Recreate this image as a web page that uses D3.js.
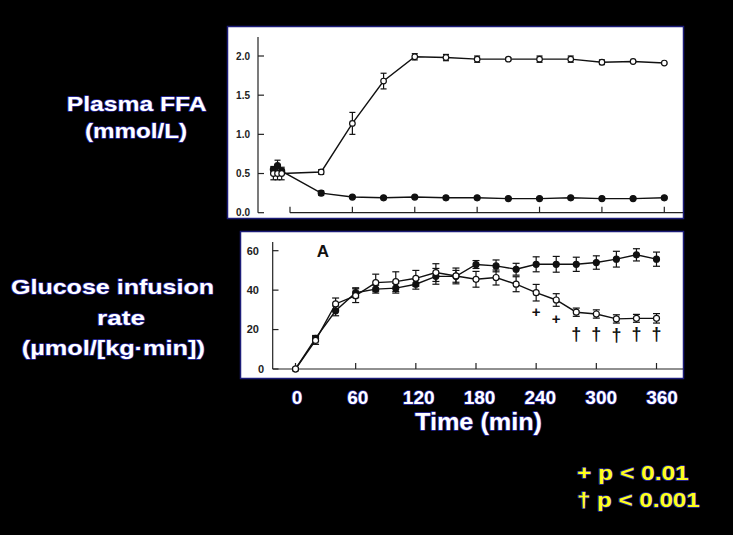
<!DOCTYPE html>
<html>
<head>
<meta charset="utf-8">
<script src="https://cdn.jsdelivr.net/npm/d3@7"></script>
<style>
  html, body { margin: 0; padding: 0; background: #000; }
  svg { display: block; }
  text { font-family: "Liberation Sans", Arial, sans-serif; font-weight: bold; }
</style>
</head>
<body>
<svg id="chart" width="733" height="535"></svg>
<script>
// ---------- DATA ----------
// Top panel: Plasma FFA (mmol/L)
const ffaTimes      = [-16, -12, -8, 30, 60, 90, 120, 150, 180, 210, 240, 270, 300, 330, 360];
const ffaLipid      = [0.50, 0.50, 0.50, 0.52, 1.14, 1.68, 1.99, 1.98, 1.96, 1.96, 1.96, 1.96, 1.92, 1.93, 1.91];
const ffaLipidErr   = [0.08, 0.08, 0.08, 0.03, 0.14, 0.10, 0.04, 0.04, 0.04, 0.02, 0.04, 0.04, 0.03, 0.01, 0.01];
const ffaSaline     = [0.55, 0.60, 0.53, 0.25, 0.20, 0.19, 0.20, 0.19, 0.19, 0.18, 0.18, 0.19, 0.18, 0.18, 0.19];
const ffaSalineErr  = [0.04, 0.07, 0.03, 0.03, 0.01, 0.01, 0.01, 0.01, 0.01, 0.01, 0.01, 0.01, 0.01, 0.01, 0.01];
const ffaYTicks     = [0, 0.5, 1.0, 1.5, 2.0];
const timeTicks     = [0, 60, 120, 180, 240, 300, 360];

// Bottom panel: Glucose infusion rate (µmol/[kg·min])
const girTimes      = [0, 20, 40, 60, 80, 100, 120, 140, 160, 180, 200, 220, 240, 260, 280, 300, 320, 340, 360];
const girSaline     = [0, 15.5, 29.5, 38.7, 40.5, 41.0, 43.0, 47.0, 47.0, 53.0, 52.3, 50.6, 53.1, 53.1, 53.1, 54.0, 55.7, 57.9, 55.7];
const girSalineErr  = [0, 1.5, 2.5, 2.5, 2.0, 2.5, 2.5, 4.0, 3.0, 2.0, 3.0, 3.0, 3.8, 4.0, 3.6, 3.4, 4.0, 3.1, 3.6];
const girLipid      = [0, 14.5, 33.0, 37.2, 43.8, 44.3, 46.0, 48.9, 47.2, 45.5, 46.4, 43.0, 38.7, 35.0, 28.8, 27.9, 25.4, 25.7, 25.7];
const girLipidErr   = [0, 2.0, 3.0, 3.5, 4.3, 5.0, 4.0, 4.5, 4.0, 4.0, 3.8, 3.8, 4.2, 3.2, 2.1, 2.1, 2.1, 2.0, 2.4];
const girYTicks     = [0, 20, 40, 60];
const plusTimes     = [240, 260];
const plusLevels    = [29.1, 25.7];
const daggerTimes   = [280, 300, 320, 340, 360];
const daggerLevels  = [18.3, 18.3, 18.0, 18.3, 18.3];

const topLabel      = ["Plasma FFA", "(mmol/L)"];
const bottomLabel   = ["Glucose infusion", "rate", "(µmol/[kg·min])"];
const xTitle        = "Time (min)";
const panelTag      = "A";
const legendLines   = ["+ p < 0.01", "† p < 0.001"];

// ---------- DRAW ----------
const svg = d3.select("#chart");
svg.append("rect").attr("width", 733).attr("height", 535).attr("fill", "#000");

const boxStroke = "#1c1c78";
svg.append("rect").attr("x", 227.5).attr("y", 26.5).attr("width", 456).attr("height", 192)
  .attr("fill", "#fff").attr("stroke", boxStroke).attr("stroke-width", 1.5);
svg.append("rect").attr("x", 240.5).attr("y", 231.5).attr("width", 443).attr("height", 147)
  .attr("fill", "#fff").attr("stroke", boxStroke).attr("stroke-width", 1.5);

// ---- Top panel
const xTop = d3.scaleLinear().domain([0, 360]).range([290, 664.3]);
const yTop = d3.scaleLinear().domain([0, 2]).range([212.7, 56]);

const gTop = svg.append("g");
gTop.append("line").attr("x1", 258).attr("x2", 258).attr("y1", 37).attr("y2", yTop(0))
  .attr("stroke", "#222").attr("stroke-width", 1.2);
gTop.selectAll(".yt").data(ffaYTicks).join("line")
  .attr("x1", 258).attr("x2", 264).attr("y1", d => yTop(d)).attr("y2", d => yTop(d))
  .attr("stroke", "#222").attr("stroke-width", 1.2);
gTop.selectAll(".ytl").data(ffaYTicks).join("text")
  .attr("x", 250).attr("y", d => yTop(d)).attr("dy", "0.35em")
  .attr("text-anchor", "end").attr("font-size", 10).attr("fill", "#222")
  .text(d => d3.format(".1f")(d));
gTop.append("line").attr("x1", xTop(0)).attr("x2", 683).attr("y1", yTop(0)).attr("y2", yTop(0))
  .attr("stroke", "#222").attr("stroke-width", 1.2);
gTop.selectAll(".xt").data(timeTicks).join("line")
  .attr("x1", d => xTop(d)).attr("x2", d => xTop(d)).attr("y1", yTop(0)).attr("y2", yTop(0) - 6)
  .attr("stroke", "#222").attr("stroke-width", 1.2);

function drawSeries(g, xs, ys, errs, xSc, ySc, filled, r, capW) {
  const pts = xs.map((t, i) => ({ t, v: ys[i], e: errs[i] }));
  g.append("path").datum(pts)
    .attr("d", d3.line().x(d => xSc(d.t)).y(d => ySc(d.v)))
    .attr("fill", "none").attr("stroke", "#111").attr("stroke-width", 1.4);
  const eb = g.append("g");
  pts.filter(d => d.e > 0).forEach(d => {
    const x = xSc(d.t), y1 = ySc(d.v + d.e), y2 = ySc(d.v - d.e);
    eb.append("line").attr("x1", x).attr("x2", x).attr("y1", y1).attr("y2", y2)
      .attr("stroke", "#111").attr("stroke-width", 1.2);
    [y1, y2].forEach(y => eb.append("line").attr("x1", x - capW).attr("x2", x + capW)
      .attr("y1", y).attr("y2", y).attr("stroke", "#111").attr("stroke-width", 1.2));
  });
  g.selectAll(null).data(pts).join("circle")
    .attr("cx", d => xSc(d.t)).attr("cy", d => ySc(d.v)).attr("r", r)
    .attr("fill", filled ? "#111" : "#fff").attr("stroke", "#111").attr("stroke-width", 1.2);
}

drawSeries(gTop, ffaTimes, ffaSaline, ffaSalineErr, xTop, yTop, true, 3, 3);
drawSeries(gTop, ffaTimes, ffaLipid, ffaLipidErr, xTop, yTop, false, 2.8, 3);

// ---- Bottom panel
const xBot = d3.scaleLinear().domain([0, 360]).range([295.5, 656.5]);
const yBot = d3.scaleLinear().domain([0, 60]).range([369, 250.7]);

const gBot = svg.append("g");
gBot.append("line").attr("x1", 272.7).attr("x2", 272.7).attr("y1", 242).attr("y2", yBot(0))
  .attr("stroke", "#222").attr("stroke-width", 1.2);
gBot.selectAll(".yt").data(girYTicks).join("line")
  .attr("x1", 272.7).attr("x2", 278.5).attr("y1", d => yBot(d)).attr("y2", d => yBot(d))
  .attr("stroke", "#222").attr("stroke-width", 1.2);
gBot.selectAll(".ytl").data(girYTicks).join("text")
  .attr("x", d => d === 0 ? 264 : 259).attr("y", d => yBot(d)).attr("dy", "0.35em")
  .attr("text-anchor", "end").attr("font-size", 11).attr("fill", "#222")
  .text(d => d);
gBot.append("line").attr("x1", 272.7).attr("x2", 683).attr("y1", yBot(0)).attr("y2", yBot(0))
  .attr("stroke", "#222").attr("stroke-width", 1.2);
gBot.selectAll(".xt").data(timeTicks).join("line")
  .attr("x1", d => xBot(d)).attr("x2", d => xBot(d)).attr("y1", yBot(0)).attr("y2", yBot(0) - 6)
  .attr("stroke", "#222").attr("stroke-width", 1.2);

gBot.append("text").attr("x", 323).attr("y", 257).attr("text-anchor", "middle")
  .attr("font-size", 17).attr("fill", "#111").text(panelTag);

drawSeries(gBot, girTimes, girSaline, girSalineErr, xBot, yBot, true, 3, 3.5);
drawSeries(gBot, girTimes, girLipid, girLipidErr, xBot, yBot, false, 3, 3.5);

gBot.selectAll(".plus").data(plusTimes).join("text")
  .attr("x", d => xBot(d)).attr("y", (d, i) => yBot(plusLevels[i])).attr("dy", "0.36em")
  .attr("text-anchor", "middle").attr("font-size", 15).attr("fill", "#111").text("+");
gBot.selectAll(".dag").data(daggerTimes).join("text")
  .attr("x", d => xBot(d)).attr("y", (d, i) => yBot(daggerLevels[i])).attr("dy", "0.4em")
  .attr("text-anchor", "middle").attr("font-size", 18)
  .attr("fill", "#111").text("†");

// ---- Outer texts (white with a thin bluish fringe)
function fringe(sel) {
  return sel.attr("stroke", "#2a2aa0").attr("stroke-width", 1.4).attr("paint-order", "stroke")
    .attr("stroke-linejoin", "round");
}
const xLab = d3.scaleLinear().domain([0, 360]).range([297, 662]);
fringe(svg.selectAll(".xtl").data(timeTicks).join("text")
  .attr("x", d => xLab(d)).attr("y", 403.5).attr("text-anchor", "middle")
  .attr("font-size", 19).attr("fill", "#fff").text(d => d));
fringe(svg.append("text").attr("x", 478.5).attr("y", 430).attr("text-anchor", "middle")
  .attr("font-size", 23).attr("textLength", 127).attr("lengthAdjust", "spacingAndGlyphs")
  .attr("fill", "#fff").text(xTitle));

const topPos = [{ x: 136.7, y: 111, w: 140 }, { x: 136, y: 138, w: 102 }];
topLabel.forEach((s, i) => fringe(svg.append("text").attr("x", topPos[i].x).attr("y", topPos[i].y)
  .attr("text-anchor", "middle").attr("font-size", 21).attr("fill", "#fff")
  .attr("textLength", topPos[i].w).attr("lengthAdjust", "spacingAndGlyphs").text(s)));

const botPos = [{ x: 112.5, y: 293.5, w: 203 }, { x: 121, y: 325, w: 48 }, { x: 113.3, y: 355, w: 183 }];
bottomLabel.forEach((s, i) => fringe(svg.append("text").attr("x", botPos[i].x).attr("y", botPos[i].y)
  .attr("text-anchor", "middle").attr("font-size", 21).attr("fill", "#fff")
  .attr("textLength", botPos[i].w).attr("lengthAdjust", "spacingAndGlyphs").text(s)));

const legPos = [{ y: 479.5, w: 111.7 }, { y: 506.7, w: 122.7 }];
legendLines.forEach((s, i) => fringe(svg.append("text").attr("x", 577).attr("y", legPos[i].y)
  .attr("font-size", 20).attr("fill", "#ffff1a")
  .attr("textLength", legPos[i].w).attr("lengthAdjust", "spacingAndGlyphs").text(s)));
</script>
</body>
</html>
